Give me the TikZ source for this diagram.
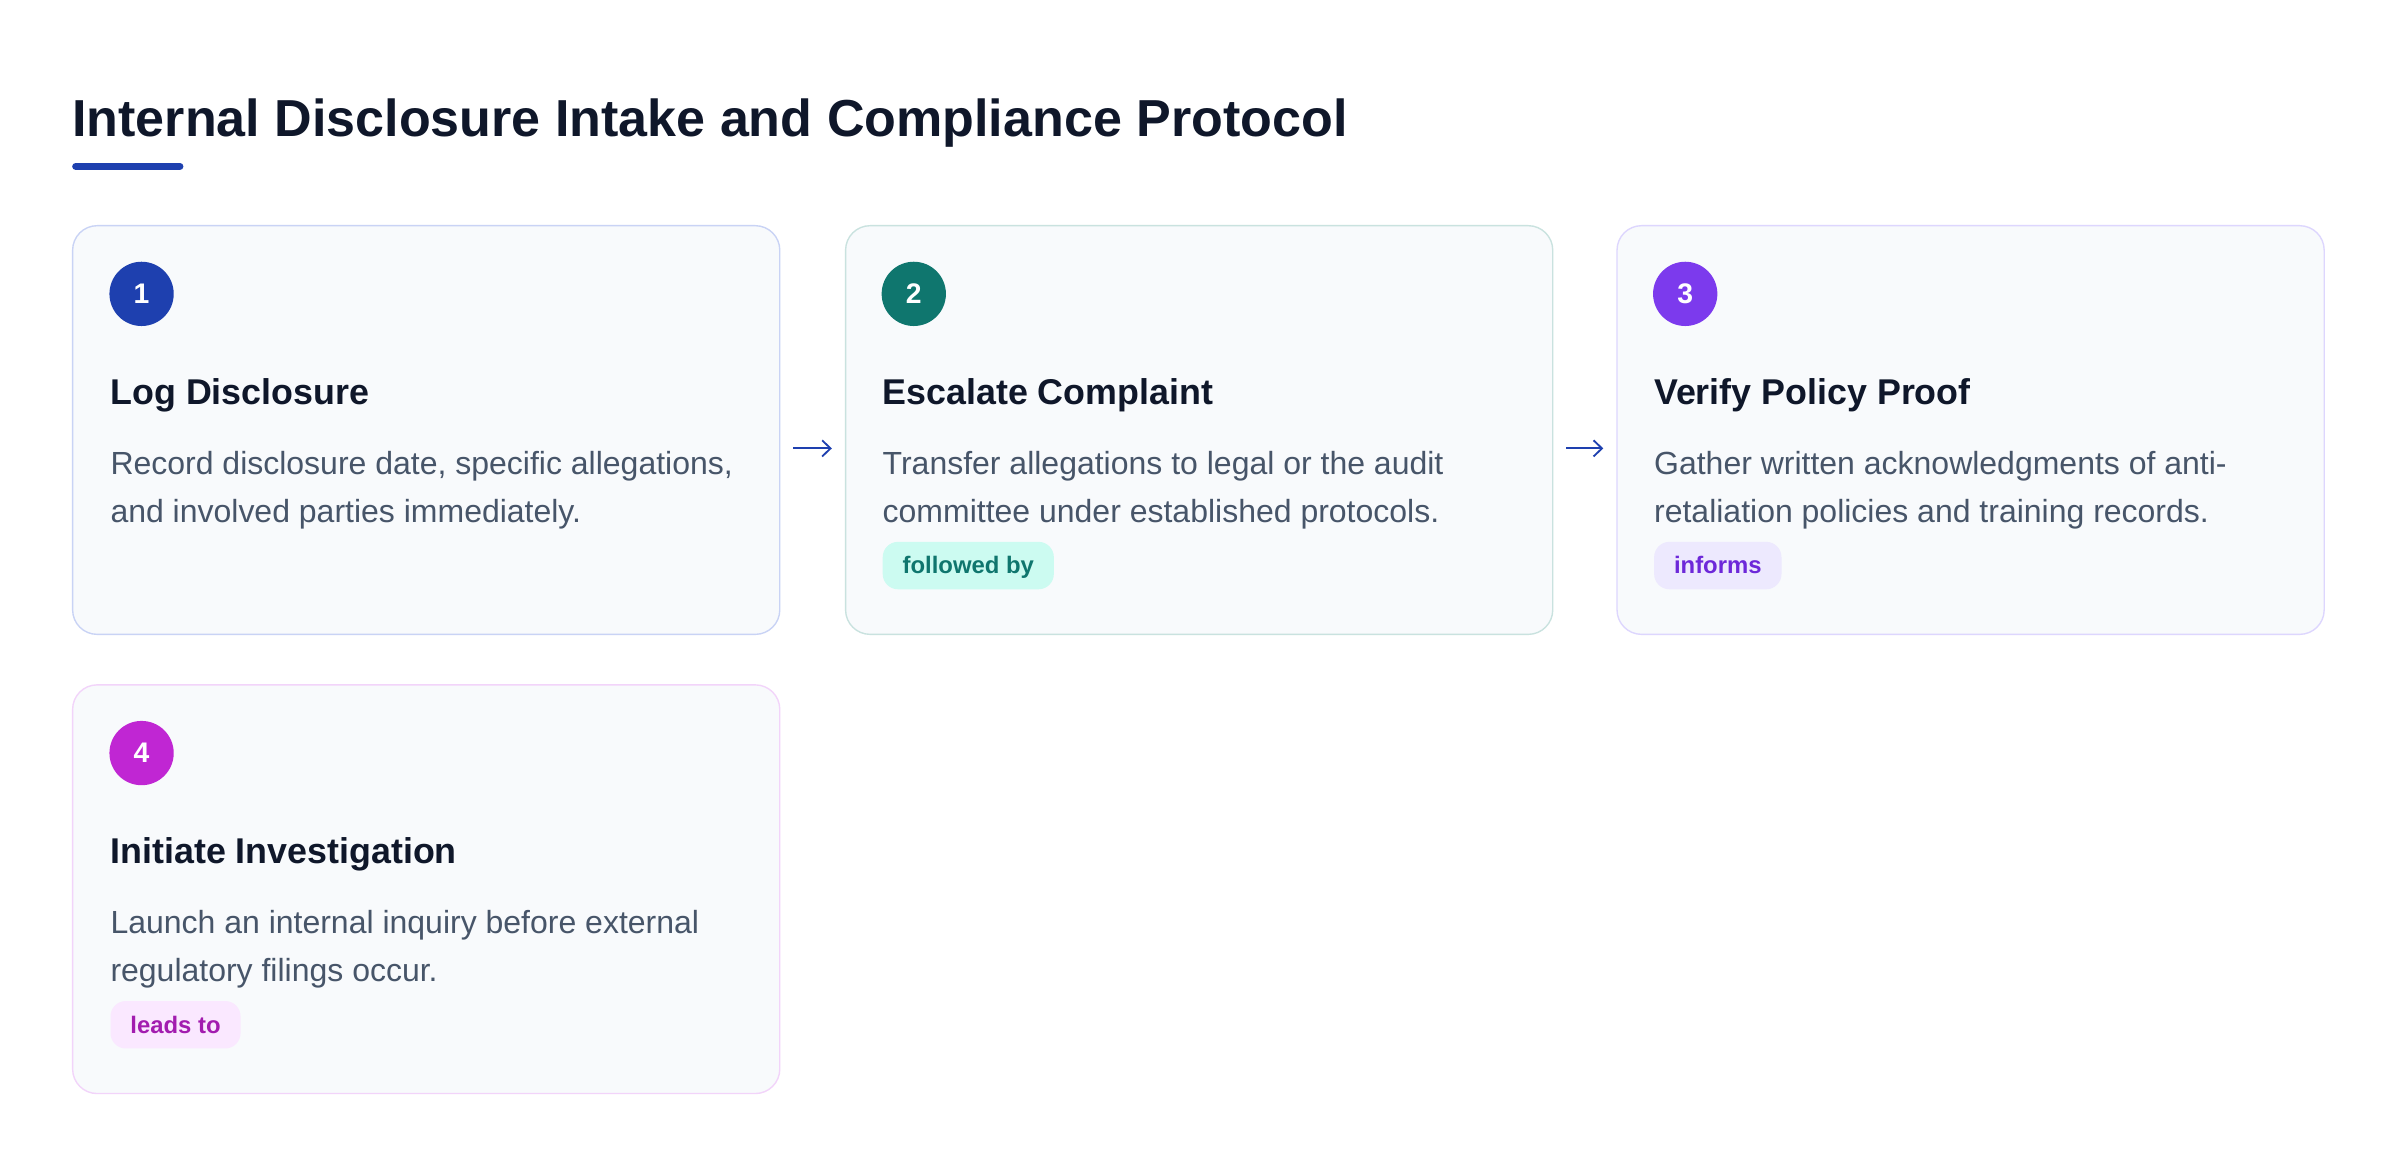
\documentclass[tikz,border=0pt]{standalone}
\usepackage{fontspec}
\setmainfont{Liberation Sans}
\usetikzlibrary{arrows.meta,calc}
\definecolor{ink}{HTML}{0F172A}
\definecolor{bodyc}{HTML}{475569}
\definecolor{cardfill}{HTML}{F8FAFC}
\definecolor{cblue}{HTML}{1E40AF}
\definecolor{cteal}{HTML}{0F766E}
\definecolor{cviolet}{HTML}{7C3AED}
\definecolor{cfuch}{HTML}{C026D3}
\definecolor{bblue}{HTML}{C9D3F5}
\definecolor{bteal}{HTML}{C9E2DF}
\definecolor{bviolet}{HTML}{DDD6FE}
\definecolor{bfuch}{HTML}{F2D4FA}
\definecolor{pteal}{HTML}{CCFBF1}
\definecolor{tteal}{HTML}{0F766E}
\definecolor{pviolet}{HTML}{EDE9FE}
\definecolor{tviolet}{HTML}{6D28D9}
\definecolor{pfuch}{HTML}{FAE8FF}
\definecolor{tfuch}{HTML}{A21CAF}
\tikzset{
  card/.style={draw, line width=0.9pt, fill=cardfill, rounded corners=16pt,
    minimum width=462pt, minimum height=267pt, anchor=north west, inner sep=0pt},
  numdot/.style={circle, inner sep=0pt, minimum size=42pt, text=white,
    font=\bfseries\fontsize{18.5}{20}\selectfont},
  headtxt/.style={anchor=base west, inner sep=0pt, text=ink,
    font=\bfseries\fontsize{23.4}{28}\selectfont},
  bodytxt/.style={anchor=base west, inner sep=0pt, text=bodyc,
    font=\fontsize{20.9}{31.5}\selectfont},
  badge/.style={anchor=west, rounded corners=10pt, minimum height=31pt,
    text height=13pt, text depth=2pt,
    inner xsep=13pt, inner ysep=0pt, font=\bfseries\fontsize{15.6}{18}\selectfont},
  flowarrow/.style={draw=cblue, line width=1.2pt, -{Straight Barb[length=5.5pt,width=10.5pt]}}
}
\begin{document}
\begin{tikzpicture}[x=1pt,y=-1pt]
\useasboundingbox[fill=white] (0,0) rectangle (1568,761.8);
% title
\node[anchor=base west, inner sep=0pt, text=ink, font=\bfseries\fontsize{34}{40}\selectfont] (title) at (47,89.5) {Internal Disclosure Intake and Compliance Protocol};
\coordinate (ulA) at (49.5,108.7);
\coordinate (ulB) at (117.5,108.7);
\draw[cblue, line width=4.7pt, line cap=round] (ulA) -- (ulB);
% cards
\node[card, draw=bblue] (c1) at (47,147) {};
\node[card, draw=bteal] (c2) at (552,147) {};
\node[card, draw=bviolet] (c3) at (1056,147) {};
\node[card, draw=bfuch] (c4) at (47,447) {};
% card 1
\node[numdot, fill=cblue] (n1) at (92.5,192) {1};
\node[headtxt] (h1) at (72,264) {Log Disclosure};
\node[bodytxt] (b1a) at (72,310) {Record disclosure date, specific allegations,};
\node[bodytxt] (b1b) at (72,341.5) {and involved parties immediately.};
% card 2
\node[numdot, fill=cteal] (n2) at (597,192) {2};
\node[headtxt] (h2) at (576.5,264) {Escalate Complaint};
\node[bodytxt] (b2a) at (576.5,310) {Transfer allegations to legal or the audit};
\node[bodytxt] (b2b) at (576.5,341.5) {committee under established protocols.};
\node[badge, fill=pteal, text=tteal] (g2) at (576.5,369.5) {followed by};
% card 3
\node[numdot, fill=cviolet] (n3) at (1101,192) {3};
\node[headtxt] (h3) at (1080.5,264) {Verify Policy Proof};
\node[bodytxt] (b3a) at (1080.5,310) {Gather written acknowledgments of anti-};
\node[bodytxt] (b3b) at (1080.5,341.5) {retaliation policies and training records.};
\node[badge, fill=pviolet, text=tviolet] (g3) at (1080.5,369.5) {informs};
% card 4
\node[numdot, fill=cfuch] (n4) at (92.5,492) {4};
\node[headtxt] (h4) at (72,564) {Initiate Investigation};
\node[bodytxt] (b4a) at (72,610) {Launch an internal inquiry before external};
\node[bodytxt] (b4b) at (72,641.5) {regulatory filings occur.};
\node[badge, fill=pfuch, text=tfuch] (g4) at (72,669.5) {leads to};
% arrows
\draw[flowarrow] ($(c1.east)+(8.5,12)$) -- ($(c2.west)+(-8.5,12)$);
\draw[flowarrow] ($(c2.east)+(8.5,12)$) -- ($(c3.west)+(-8.5,12)$);
\end{tikzpicture}
\end{document}
